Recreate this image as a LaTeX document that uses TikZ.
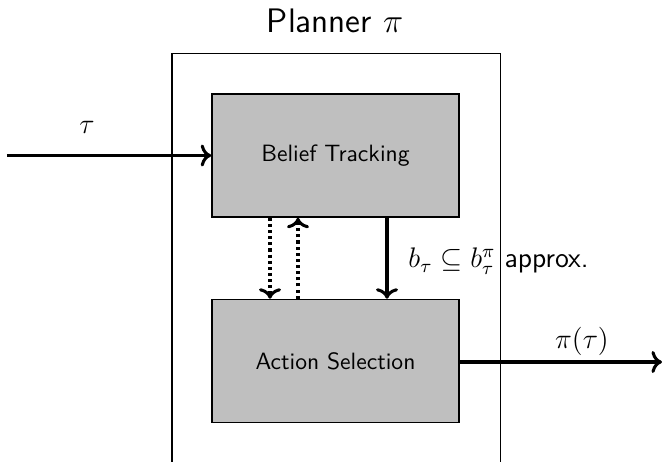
\documentclass[tikz,border=0pt]{standalone}
\usetikzlibrary{arrows.meta}
\begin{document}
\begin{tikzpicture}[x=0.4237pt,y=-0.4237pt,font=\sffamily\fontsize{10}{12}\selectfont,
  blk/.style={draw,line width=0.65pt,fill=black!25,minimum width={247*0.4237pt},minimum height={123*0.4237pt},inner sep=0pt},
  arr/.style={->,line width=1.3pt},
  dotarr/.style={->,line width=1.3pt,dash pattern=on 1.3pt off 1.3pt},
  lab/.style={font=\sffamily\fontsize{12}{14}\selectfont}]
\useasboundingbox (0,0) rectangle (662,462);
\clip (0,0) rectangle (662,462);
\node[anchor=base] (title) at (335,33) {\fontsize{14.4}{17}\selectfont Planner $\pi$};
\node[draw,line width=0.6pt,anchor=north west,minimum width={328.5*0.4237pt},minimum height={430*0.4237pt},inner sep=0pt] (planner) at (171.5,53) {};
\node[blk] (belief) at (335.5,155.5) {Belief Tracking};
\node[blk] (action) at (335.5,361) {Action Selection};
\coordinate (in) at (7,155.5);
\coordinate (out) at (662,362);
\coordinate (d1) at (270,0);
\coordinate (d2) at (298,0);
\coordinate (d3) at (387,0);
\draw[arr] (in) -- (belief.west);
\node[lab,anchor=base] (tau) at (87,134) {$\tau$};
\draw[dotarr] (belief.south -| d1) -- (action.north -| d1);
\draw[dotarr] (action.north -| d2) -- (belief.south -| d2);
\draw[arr] (belief.south -| d3) -- (action.north -| d3);
\node[lab,anchor=base west,inner sep=0pt] (blab) at (408,268) {$b_\tau \subseteq b_\tau^\pi$ approx.};
\draw[arr] (action.east |- out) -- (out);
\node[lab,anchor=base] (pilab) at (582,349) {$\pi(\tau)$};
\end{tikzpicture}
\end{document}
